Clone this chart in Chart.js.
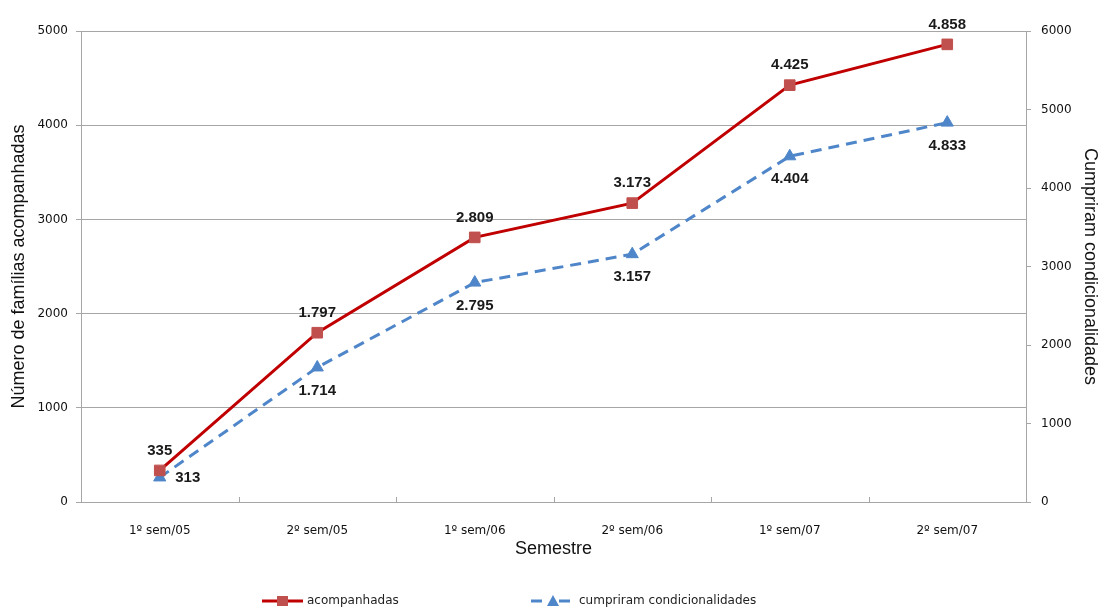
<!DOCTYPE html>
<html lang="pt">
<head>
  <meta charset="UTF-8">
  <title>Famílias acompanhadas por semestre</title>
  <style>
    body {
      margin: 0;
      padding: 0;
      background-color: #ffffff;
    }
    .wrap {
      position: relative;
      width: 1099px;
      height: 612px;
    }
  </style>
</head>
<body>

  <div class="wrap">
    <canvas id="grafico"></canvas>
  </div>

  <script src="https://cdn.jsdelivr.net/npm/chart.js"></script>
  <script>
    // dados
    const semestres = ['1º sem/05', '2º sem/05', '1º sem/06', '2º sem/06', '1º sem/07', '2º sem/07'];
    const acompanhadas = [335, 1797, 2809, 3173, 4425, 4858];
    const cumpriram = [313, 1714, 2795, 3157, 4404, 4833];
    const eixoEsqMax = 5000;
    const eixoDirMax = 6000;
    const passoTicks = 1000;

    const vermelho = '#C00000';
    const vermelhoMarca = '#C0504D';
    const azul = '#4F86C9';
    const cinza = '#A6A6A6';
    const fonteTicks = { family: 'DejaVu Sans', size: 12 };
    const fonteTitulo = { family: 'Liberation Sans', size: 18, lineHeight: 1 };

    // 1797 -> "1.797"
    function formata(v) {
      return String(v).replace(/\B(?=(\d{3})+(?!\d))/g, '.');
    }

    // rótulos de valor (vermelho acima, azul abaixo)
    const rotulos = {
      id: 'rotulos',
      afterDatasetsDraw(chart) {
        const ctx = chart.ctx;
        ctx.save();
        ctx.font = 'bold 15px "Liberation Sans", Arial, sans-serif';
        ctx.fillStyle = '#1a1a1a';
        ctx.textAlign = 'center';
        ctx.textBaseline = 'middle';
        chart.getDatasetMeta(0).data.forEach((pt, i) => {
          ctx.fillText(formata(acompanhadas[i]), pt.x, pt.y - 20);
        });
        chart.getDatasetMeta(1).data.forEach((pt, i) => {
          if (i === 0) {
            ctx.fillText(formata(cumpriram[i]), pt.x + 28, pt.y);
          } else {
            ctx.fillText(formata(cumpriram[i]), pt.x, pt.y + 23);
          }
        });
        ctx.restore();
      }
    };

    // pequenos traços do eixo x, para dentro da área
    const tracosX = {
      id: 'tracosX',
      beforeDatasetsDraw(chart) {
        const ctx = chart.ctx;
        const x = chart.scales.x;
        const base = chart.chartArea.bottom;
        ctx.save();
        ctx.strokeStyle = cinza;
        ctx.lineWidth = 1;
        for (let i = 1; i < semestres.length; i++) {
          const px = Math.round(x.getPixelForValue(i - 0.5)) + 0.5;
          ctx.beginPath();
          ctx.moveTo(px, base);
          ctx.lineTo(px, base - 5);
          ctx.stroke();
        }
        ctx.restore();
      }
    };

    // legenda desenhada à mão, com linha e marcador
    const legenda = {
      id: 'legenda',
      afterDraw(chart) {
        const ctx = chart.ctx;
        const y = 601;
        ctx.save();
        ctx.font = '12px "DejaVu Sans", sans-serif';
        ctx.textBaseline = 'middle';
        ctx.textAlign = 'left';

        // acompanhadas
        ctx.strokeStyle = vermelho;
        ctx.lineWidth = 3;
        ctx.beginPath();
        ctx.moveTo(262, y);
        ctx.lineTo(303, y);
        ctx.stroke();
        ctx.fillStyle = vermelhoMarca;
        ctx.fillRect(277, y - 5, 11, 10);
        ctx.fillStyle = '#222';
        ctx.fillText(chart.data.datasets[0].label, 307, y);

        // cumpriram
        ctx.strokeStyle = azul;
        ctx.beginPath();
        ctx.moveTo(531, y);
        ctx.lineTo(542, y);
        ctx.moveTo(559, y);
        ctx.lineTo(570, y);
        ctx.stroke();
        ctx.fillStyle = azul;
        ctx.beginPath();
        ctx.moveTo(553, y - 6);
        ctx.lineTo(559, y + 5);
        ctx.lineTo(547, y + 5);
        ctx.closePath();
        ctx.fill();
        ctx.fillStyle = '#222';
        ctx.fillText(chart.data.datasets[1].label, 579, y);
        ctx.restore();
      }
    };

    const semSeparador = v => String(v);

    const ctx = document.getElementById('grafico').getContext('2d');
    new Chart(ctx, {
      type: 'line',
      data: {
        labels: semestres,
        datasets: [{
          label: 'acompanhadas',
          data: acompanhadas,
          yAxisID: 'y',
          borderColor: vermelho,
          borderWidth: 3,
          pointStyle: 'rect',
          pointRadius: 7.5,
          pointBackgroundColor: vermelhoMarca,
          pointBorderColor: vermelhoMarca,
          pointBorderWidth: 1,
          tension: 0
        }, {
          label: 'cumpriram condicionalidades',
          data: cumpriram,
          yAxisID: 'y1',
          borderColor: azul,
          borderWidth: 3,
          borderDash: [11, 7],
          pointStyle: 'triangle',
          pointRadius: 7,
          pointBackgroundColor: azul,
          pointBorderColor: azul,
          pointBorderWidth: 1,
          tension: 0
        }]
      },
      options: {
        responsive: true,
        maintainAspectRatio: false,
        animation: false,
        layout: { padding: { top: 31, left: 0, right: 0, bottom: 0 } },
        plugins: {
          legend: { display: false },
          tooltip: { enabled: false }
        },
        scales: {
          x: {
            offset: true,
            grid: { display: false },
            border: { display: true, color: cinza, width: 1 },
            ticks: { font: fonteTicks, color: '#111', padding: 14, maxRotation: 0 },
            title: {
              display: true,
              text: 'Semestre',
              font: fonteTitulo,
              color: '#111',
              padding: { top: 0, bottom: 54 }
            },
            afterFit(scale) { scale.height = 110; }
          },
          y: {
            position: 'left',
            min: 0,
            max: eixoEsqMax,
            ticks: { stepSize: passoTicks, font: fonteTicks, color: '#111', padding: 8, callback: semSeparador },
            grid: { color: cinza, tickLength: 5, drawTicks: true },
            border: { display: true, color: cinza, width: 1 },
            title: {
              display: true,
              text: 'Número de famílias acompanhadas',
              font: fonteTitulo,
              color: '#111',
              padding: { top: 10, bottom: 0 }
            },
            afterFit(scale) { scale.width = 81; }
          },
          y1: {
            position: 'right',
            min: 0,
            max: eixoDirMax,
            ticks: { stepSize: passoTicks, font: fonteTicks, color: '#111', padding: 10, callback: semSeparador },
            grid: { drawOnChartArea: false, color: cinza, tickLength: 5 },
            border: { display: true, color: cinza, width: 1 },
            title: {
              display: true,
              text: 'Cumpriram condicionalidades',
              font: fonteTitulo,
              color: '#111',
              padding: { top: 0, bottom: 0 }
            },
            afterFit(scale) { scale.width = 73; }
          }
        }
      },
      plugins: [tracosX, rotulos, legenda]
    });
  </script>

</body>
</html>
